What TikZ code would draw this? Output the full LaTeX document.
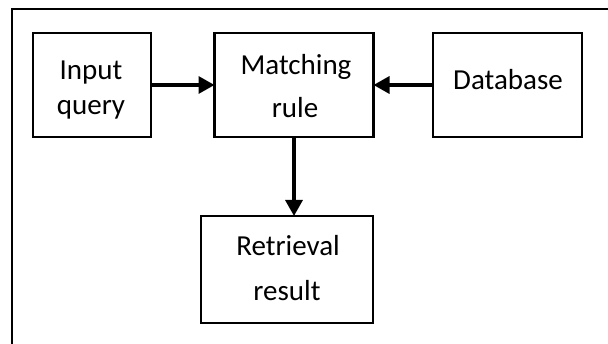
\documentclass[tikz,border=0pt]{standalone}
\usepackage{fontspec}
\setmainfont{Carlito}
\usetikzlibrary{arrows.meta}

\tikzset{
  box/.style={draw, line width=2.3pt, rectangle, inner sep=0pt, outer sep=0pt},
  lbl/.style={anchor=base, inner sep=0pt, font=\fontsize{29}{34}\selectfont},
  flow/.style={line width=3.3pt, -{Triangle[length=16pt,width=17pt]}},
}

\begin{document}
\begin{tikzpicture}[x=1pt, y=-1pt]
  \useasboundingbox (0,0) rectangle (608,344);
  \fill[white] (0,0) rectangle (608,344);

  % frame (top and left edges)
  \draw[line width=2.6pt] (12,344) -- (12,9) -- (608,9);

  % blocks
  \node[box, minimum width=118pt, minimum height=104pt] (inq) at (92,85) {};
  \node[box, minimum width=159pt, minimum height=104pt] (match) at (294,85) {};
  \node[box, minimum width=149pt, minimum height=104pt] (db) at (507.5,85) {};
  \node[box, minimum width=172pt, minimum height=107pt] (res) at (287,269.5) {};

  % labels
  \node[lbl] (t1) at (91,80) {Input};
  \node[lbl] (t2) at (91,115) {query};
  \node[lbl] (t3) at (296,75) {Matching};
  \node[lbl] (t4) at (295,118) {rule};
  \node[lbl] (t5) at (508,90) {Database};
  \node[lbl] (t6) at (288,256) {Retrieval};
  \node[lbl] (t7) at (287,300.5) {result};

  % connectors
  \draw[flow] (inq.east) -- (match.west);
  \draw[flow] (db.west) -- (match.east);
  \draw[flow] (match.south) -- (match.south |- res.north);
\end{tikzpicture}
\end{document}
